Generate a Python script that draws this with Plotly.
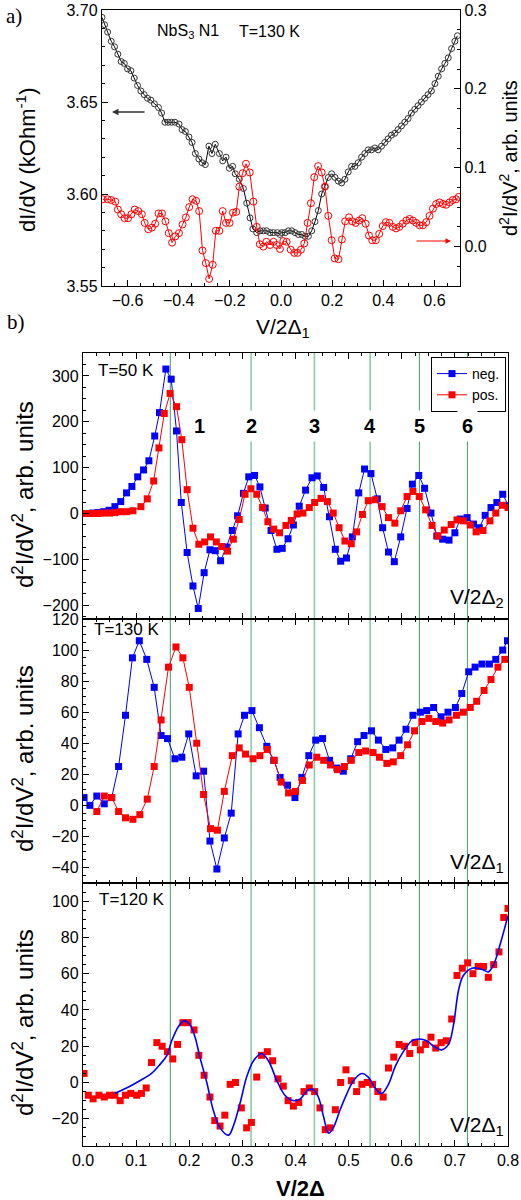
import plotly.graph_objects as go

# ---------------- Panel a data ----------------
a_x_didv = [-0.700,-0.690,-0.678,-0.664,-0.651,-0.638,-0.625,-0.613,-0.600,-0.587,-0.574,-0.561,-0.548,-0.535,-0.522,-0.509,-0.495,-0.479,-0.467,-0.454,-0.441,-0.428,-0.415,-0.399,-0.387,-0.374,-0.360,-0.348,-0.335,-0.321,-0.309,-0.296,-0.282,-0.270,-0.257,-0.241,-0.228,-0.215,-0.202,-0.189,-0.179,-0.163,-0.147,-0.134,-0.121,-0.110,-0.095,-0.082,-0.069,-0.056,-0.043,-0.030,-0.014,-0.004,
            0.003,0.016,0.029,0.042,0.055,0.068,0.081,0.094,0.107,0.120,0.133,0.146,0.159,0.172,0.185,0.198,0.211,0.224,0.237,0.250,0.263,0.276,0.289,0.302,0.315,0.328,0.341,0.354,0.367,0.380,0.393,0.406,0.419,0.432,0.445,0.458,0.471,0.484,0.497,0.510,0.523,0.536,0.549,0.562,0.575,0.588,0.602,0.615,0.628,0.641,0.654,0.667,0.680,0.690]
a_didv = [3.696,3.692,3.688,3.683,3.680,3.676,3.672,3.671,3.668,3.667,3.663,3.659,3.656,3.654,3.652,3.651,3.649,3.647,3.644,3.639,3.639,3.639,3.639,3.638,3.635,3.634,3.631,3.628,3.622,3.619,3.617,3.616,3.626,3.622,3.627,3.622,3.618,3.620,3.614,3.615,3.611,3.608,3.603,3.595,3.587,3.581,3.579,3.580,3.580,3.580,3.579,3.579,3.579,3.578,
          3.579,3.579,3.580,3.580,3.579,3.578,3.578,3.577,3.577,3.580,3.585,3.591,3.600,3.604,3.609,3.611,3.609,3.607,3.606,3.608,3.612,3.615,3.615,3.617,3.620,3.622,3.624,3.624,3.625,3.624,3.626,3.628,3.630,3.632,3.633,3.635,3.637,3.639,3.641,3.644,3.646,3.648,3.650,3.652,3.654,3.656,3.660,3.664,3.668,3.671,3.674,3.679,3.683,3.686]

a_x_d2 = [-0.697,-0.678,-0.664,-0.648,-0.638,-0.625,-0.612,-0.598,-0.585,-0.572,-0.558,-0.544,-0.533,-0.519,-0.505,-0.492,-0.479,-0.465,-0.452,-0.439,-0.426,-0.413,-0.399,-0.385,-0.372,-0.359,-0.346,-0.332,-0.320,-0.307,-0.294,-0.281,-0.267,-0.255,-0.241,-0.228,-0.215,-0.201,-0.188,-0.175,-0.163,-0.150,-0.137,-0.122,-0.108,-0.095,-0.083,-0.069,-0.057,-0.043,-0.029,-0.017,-0.004,
          0.009,0.022,0.038,0.052,0.065,0.078,0.091,0.104,0.117,0.130,0.145,0.159,0.172,0.185,0.198,0.210,0.225,0.238,0.251,0.266,0.279,0.292,0.305,0.318,0.331,0.344,0.357,0.371,0.384,0.398,0.410,0.424,0.437,0.450,0.463,0.476,0.490,0.503,0.516,0.529,0.542,0.555,0.568,0.581,0.594,0.607,0.620,0.633,0.646,0.659,0.672,0.685,0.695]
a_d2 = [0.060,0.060,0.059,0.057,0.047,0.041,0.036,0.036,0.041,0.047,0.045,0.041,0.030,0.022,0.024,0.029,0.042,0.042,0.032,0.017,0.005,0.013,0.017,0.028,0.037,0.050,0.060,0.058,0.045,-0.005,-0.021,-0.041,-0.023,0.020,0.020,0.045,0.030,0.030,0.043,0.044,0.076,0.093,0.105,0.094,0.057,0.025,0.003,0.000,0.006,0.002,0.006,0.002,-0.003,
        0.007,0.006,-0.004,-0.008,-0.008,-0.004,0.004,0.030,0.055,0.088,0.102,0.094,0.076,0.039,0.008,-0.015,-0.016,0.009,0.032,0.037,0.032,0.030,0.033,0.036,0.029,0.014,0.008,0.008,0.016,0.026,0.031,0.030,0.025,0.023,0.025,0.029,0.033,0.035,0.033,0.030,0.027,0.027,0.031,0.039,0.048,0.054,0.056,0.054,0.053,0.056,0.059,0.060,0.063]

# ---------------- Panel b1 (T=50 K) ----------------
b1_x_neg = [0.007,0.018,0.028,0.039,0.049,0.060,0.071,0.082,0.092,0.103,0.114,0.124,0.135,0.144,0.156,0.166,0.176,0.185,0.196,0.207,0.217,0.228,0.239,0.249,0.259,0.270,0.281,0.291,0.302,0.312,0.323,0.333,0.343,0.354,0.365,0.375,0.386,0.396,0.407,0.419,0.431,0.441,0.453,0.464,0.475,0.485,0.496,0.507,0.519,0.530,0.542,0.554,0.564,0.575,0.586,0.598,0.610,0.620,0.632,0.643,0.655,0.666,0.677,0.689,0.700,0.710,0.723,0.735,0.746,0.757,0.768,0.779,0.790,0.801]
b1_neg = [0,1,2,4,7,15,26,45,59,80,95,115,169,220,315,293,180,24,-85,-158,-207,-129,-79,-81,-103,-73,-37,-5,44,80,83,58,12,-37,-78,-76,-55,-25,16,51,78,82,57,-7,-78,-104,-97,-51,45,97,87,32,-31,-84,-105,-51,11,64,83,55,1,-49,-56,-58,-42,-12,-9,-23,-31,-4,13,24,42,17]
b1_x_pos = [0.005,0.016,0.028,0.038,0.050,0.060,0.072,0.082,0.094,0.109,0.121,0.133,0.143,0.153,0.164,0.176,0.186,0.196,0.207,0.218,0.229,0.240,0.251,0.261,0.272,0.283,0.294,0.305,0.316,0.327,0.338,0.348,0.359,0.370,0.382,0.392,0.403,0.414,0.426,0.436,0.448,0.460,0.471,0.482,0.493,0.505,0.515,0.526,0.537,0.550,0.563,0.575,0.587,0.598,0.610,0.621,0.633,0.645,0.657,0.668,0.680,0.693,0.704,0.716,0.729,0.740,0.753,0.766,0.777,0.789,0.800]
b1_pos = [0,0,0,1,1,2,4,4,6,15,32,71,143,218,262,233,161,52,-32,-67,-62,-51,-62,-72,-82,-56,-13,42,54,42,13,-18,-34,-42,-26,-15,-1,1,13,24,33,26,1,-31,-60,-66,-40,-2,28,30,15,-9,-21,6,37,48,37,8,-26,-49,-36,-24,-14,-16,-25,-40,-37,-16,1,18,13]

# ---------------- Panel b2 (T=130 K) ----------------
b2_x_neg = [0.002,0.013,0.026,0.040,0.054,0.067,0.080,0.093,0.106,0.120,0.134,0.147,0.159,0.173,0.186,0.199,0.213,0.227,0.239,0.252,0.266,0.279,0.292,0.304,0.318,0.332,0.346,0.359,0.371,0.385,0.399,0.412,0.425,0.438,0.451,0.464,0.478,0.490,0.504,0.517,0.529,0.543,0.556,0.570,0.583,0.595,0.608,0.621,0.635,0.647,0.660,0.674,0.687,0.701,0.713,0.726,0.738,0.751,0.765,0.777,0.790,0.799]
b2_neg = [5,0,6,1,5,25,58,95,106,94,76,45,43,30,31,46,19,22,-23,-41,-21,-5,46,58,61,50,38,29,18,13,5,18,32,42,43,29,24,22,30,41,45,48,42,36,37,42,49,58,60,61,63,57,60,63,72,86,89,91,91,94,100,106]
b2_x_pos = [0.026,0.040,0.054,0.067,0.080,0.094,0.107,0.121,0.134,0.147,0.161,0.175,0.188,0.200,0.214,0.227,0.240,0.253,0.266,0.281,0.294,0.306,0.320,0.333,0.347,0.360,0.373,0.387,0.400,0.413,0.426,0.440,0.453,0.466,0.479,0.492,0.505,0.519,0.532,0.546,0.558,0.572,0.584,0.598,0.611,0.624,0.638,0.651,0.664,0.677,0.689,0.703,0.716,0.729,0.741,0.755,0.768,0.781,0.794]
b2_pos = [-4,6,5,-4,-8,-9,-6,4,25,55,89,102,95,76,40,7,-15,-16,9,32,37,33,30,32,36,29,15,8,9,16,26,31,29,26,23,25,29,34,35,34,31,27,28,32,39,48,54,56,54,53,55,58,60,63,67,74,81,89,94]

# ---------------- Panel b3 (T=120 K) ----------------
b3_x = [0.002,0.010,0.019,0.030,0.040,0.050,0.060,0.070,0.080,0.090,0.101,0.110,0.119,0.129,0.139,0.149,0.159,0.169,0.178,0.188,0.198,0.209,0.218,0.228,0.239,0.248,0.258,0.267,0.277,0.287,0.298,0.308,0.317,0.327,0.336,0.347,0.357,0.367,0.377,0.386,0.396,0.406,0.416,0.426,0.436,0.446,0.456,0.465,0.475,0.485,0.495,0.505,0.515,0.525,0.535,0.545,0.555,0.565,0.575,0.585,0.595,0.605,0.615,0.625,0.635,0.645,0.655,0.664,0.674,0.684,0.694,0.704,0.714,0.724,0.734,0.744,0.754,0.763,0.773,0.783,0.792,0.800]
b3_y = [5,-7,-9,-7,-8,-7,-7,-10,-7,-6,-7,-6,-3,11,22,20,17,13,21,33,33,29,15,4,-8,-21,-24,-18,-1,0,-14,-25,-22,3,15,17,12,2,-2,-10,-13,-11,-5,-3,-5,-14,-26,-25,-15,0,7,1,-5,-1,0,-1,-5,-8,8,14,21,20,16,22,18,21,25,19,22,23,35,59,63,66,60,64,64,58,65,72,91,96]
b3_fit_x = [0.060,0.082,0.107,0.129,0.145,0.158,0.167,0.180,0.190,0.201,0.211,0.220,0.233,0.245,0.258,0.274,0.283,0.296,0.308,0.321,0.336,0.349,0.365,0.380,0.396,0.409,0.424,0.434,0.443,0.453,0.462,0.471,0.484,0.497,0.509,0.525,0.537,0.550,0.562,0.575,0.588,0.603,0.619,0.633,0.647,0.660,0.675,0.688,0.697,0.707,0.716,0.732,0.744,0.754,0.763,0.773,0.785,0.800]
b3_fit_y = [-6,-3,1,5,10,15,23,31,34,32,25,14,0,-15,-25,-29,-24,-11,3,12,16,12,1,-7,-10,-9,-4,-4,-8,-19,-28,-25,-15,-6,1,5,3,-3,-6,-1,9,17,23,24,23,20,18,21,31,51,59,63,63,62,61,65,76,92]

marker_lines = [0.1644, 0.3164, 0.4356, 0.5405, 0.6333, 0.7237]
marker_labels = ["1", "2", "3", "4", "5", "6"]

W, H = 521, 1200
def px(x): return x / W
def py(y): return 1 - y / H

FONT = "Liberation Sans, Arial, sans-serif"
BLUE = "#0000ff"
RED = "#ff0000"

fig = go.Figure()

# panel a
fig.add_trace(go.Scatter(x=a_x_d2, y=a_d2, xaxis="x", yaxis="y2", mode="lines+markers",
                         line=dict(color=RED, width=1),
                         marker=dict(symbol="circle-open", size=7, color=RED, line=dict(width=1)),
                         showlegend=False))
fig.add_trace(go.Scatter(x=a_x_didv, y=a_didv, xaxis="x", yaxis="y", mode="lines+markers",
                         line=dict(color="black", width=1),
                         marker=dict(symbol="circle-open", size=6, color="#333", line=dict(width=1)),
                         showlegend=False))

# panel b1
fig.add_trace(go.Scatter(x=b1_x_neg, y=b1_neg, xaxis="x2", yaxis="y3", mode="lines+markers", name="neg.",
                         line=dict(color=BLUE, width=1), marker=dict(symbol="square", size=7, color=BLUE)))
fig.add_trace(go.Scatter(x=b1_x_pos, y=b1_pos, xaxis="x2", yaxis="y3", mode="lines+markers", name="pos.",
                         line=dict(color=RED, width=1), marker=dict(symbol="square", size=7, color=RED)))
# panel b2
fig.add_trace(go.Scatter(x=b2_x_neg, y=b2_neg, xaxis="x3", yaxis="y4", mode="lines+markers", showlegend=False,
                         line=dict(color=BLUE, width=1), marker=dict(symbol="square", size=7, color=BLUE)))
fig.add_trace(go.Scatter(x=b2_x_pos, y=b2_pos, xaxis="x3", yaxis="y4", mode="lines+markers", showlegend=False,
                         line=dict(color=RED, width=1), marker=dict(symbol="square", size=7, color=RED)))
# panel b3
fig.add_trace(go.Scatter(x=b3_x, y=b3_y, xaxis="x4", yaxis="y5", mode="markers", showlegend=False,
                         marker=dict(symbol="square", size=7, color=RED)))
fig.add_trace(go.Scatter(x=b3_fit_x, y=b3_fit_y, xaxis="x4", yaxis="y5", mode="lines", showlegend=False,
                         line=dict(color=BLUE, width=1.6, shape="spline", smoothing=1.0)))

tickfont = dict(family=FONT, size=16, color="black")
common = dict(showline=True, linecolor="black", linewidth=1.2, ticks="inside", ticklen=6,
              tickwidth=1, tickcolor="black", showgrid=False, zeroline=False, tickfont=tickfont,
              automargin=False)

bx = [px(83), px(508)]
layout = dict(
    template="none",
    width=W, height=H, autosize=False,
    margin=dict(l=0, r=0, t=0, b=0, pad=0),
    paper_bgcolor="white", plot_bgcolor="rgba(0,0,0,0)",
    font=dict(family=FONT, color="black"),
    xaxis=dict(domain=[px(102), px(460)], anchor="y", range=[-0.7, 0.7], dtick=0.2, tick0=0,
               tickformat=".1f", mirror=True,
               minor=dict(dtick=0.05, ticks="inside", ticklen=3, tickcolor="black"), **common),
    yaxis=dict(domain=[py(286), py(10)], anchor="x", range=[3.55, 3.70], dtick=0.05, tick0=3.55,
               tickformat=".2f", minor=dict(dtick=0.01, ticks="inside", ticklen=3, tickcolor="black"), **common),
    yaxis2=dict(overlaying="y", side="right", anchor="x", range=[-0.05, 0.3], dtick=0.1, tick0=0,
                tickformat=".1f", minor=dict(dtick=0.025, ticks="inside", ticklen=3, tickcolor="black"), **common),
    showlegend=True,
    legend=dict(x=px(506), xanchor="right", y=py(357), yanchor="top", bgcolor="white",
                bordercolor="black", borderwidth=1, font=dict(family=FONT, size=14),
                tracegroupgap=0, itemwidth=30),
)
ranges = {3: [-230, 350], 4: [-50, 120], 5: [-35, 110]}
dticks = {3: (100, 25), 4: (20, 5), 5: (20, 5)}
ydom = {3: [py(619), py(353)], 4: [py(883), py(619)], 5: [py(1146), py(883)]}
for xa, ya in [(2, 3), (3, 4), (4, 5)]:
    layout[f"xaxis{xa}"] = dict(domain=bx, anchor=f"y{ya}", range=[0, 0.8], dtick=0.1, tick0=0,
                                tickformat=".1f", mirror="ticks", showticklabels=(xa == 4),
                                minor=dict(dtick=0.025, ticks="inside", ticklen=3, tickcolor="black"), **common)
    d, m = dticks[ya]
    layout[f"yaxis{ya}"] = dict(domain=ydom[ya], anchor=f"x{xa}", range=ranges[ya], dtick=d, tick0=0,
                                mirror=True,
                                minor=dict(dtick=m, ticks="inside", ticklen=3, tickcolor="black"), **common)
fig.update_layout(**layout)

# green marker lines
shapes = []
for i, v in enumerate(marker_lines):
    light = i in (1, 2, 3)
    shapes.append(dict(type="line", xref="x4", yref="paper", x0=v, x1=v, y0=py(1146), y1=py(353),
                       layer="below",
                       line=dict(color="#86cca6" if light else "#4fa878", width=1.6 if light else 1.1)))
fig.update_layout(shapes=shapes)

ann = []
def text(x, y, t, size=17, xanchor="left", yanchor="middle", **kw):
    ann.append(dict(x=px(x), y=py(y), xref="paper", yref="paper", text=t, showarrow=False,
                    xanchor=xanchor, yanchor=yanchor, font=dict(family=kw.pop("family", FONT), size=size, color="black"), **kw))

# labels of lines
for i, (v, lab) in enumerate(zip(marker_lines, marker_labels)):
    xx = 0.2185 if i == 0 else v
    ann.append(dict(x=xx, y=py(426), xref="x2", yref="paper", text=f"<b>{lab}</b>", showarrow=False,
                    xanchor="center", yanchor="middle", font=dict(family=FONT, size=20, color="black"),
                    bgcolor="white" if i > 0 else None, borderpad=4))

text(14, 16, "a)", size=21, xanchor="center", family="Liberation Serif, Times New Roman, serif")
text(16, 322, "b)", size=21, xanchor="center", family="Liberation Serif, Times New Roman, serif")
text(155, 32, "NbS<sub>3</sub> N1", size=16)
text(237, 32, "T=130 K", size=16)
text(96, 371, "T=50 K", size=17)
text(92, 629, "T=130 K", size=17)
text(97, 899, "T=120 K", size=17)
text(506, 598, "V/2Δ<sub>2</sub>", size=21, xanchor="right")
text(506, 863, "V/2Δ<sub>1</sub>", size=21, xanchor="right")
text(506, 1126, "V/2Δ<sub>1</sub>", size=21, xanchor="right")
text(283, 328, "V/2Δ<sub>1</sub>", size=21, xanchor="center")
text(300, 1188, "<b>V/2Δ</b>", size=22, xanchor="center")
# axis titles
text(26, 160, "dI/dV (kOhm<sup>-1</sup>)", size=22, xanchor="center", textangle=-90)
text(509, 158, "d<sup>2</sup>I/dV<sup>2</sup>, arb. units", size=20, xanchor="center", textangle=-90)
for yc in (495, 759, 1023):
    text(23, yc, "d<sup>2</sup>I/dV<sup>2</sup>, arb. units", size=24, xanchor="center", textangle=-90)

# arrows
ann.append(dict(x=px(112), y=py(112), xref="paper", yref="paper", ax=34, ay=0, axref="pixel", ayref="pixel",
                showarrow=True, arrowhead=2, arrowsize=1, arrowwidth=1.3, arrowcolor="#333", text=""))
ann.append(dict(x=px(451), y=py(241), xref="paper", yref="paper", ax=-36, ay=0, axref="pixel", ayref="pixel",
                showarrow=True, arrowhead=2, arrowsize=1, arrowwidth=1.1, arrowcolor=RED, text=""))
fig.update_layout(annotations=ann)

fig.write_html("out.html", config={"displayModeBar": False, "staticPlot": True},
               post_script="document.body.style.margin='0';document.body.style.overflow='hidden';")
